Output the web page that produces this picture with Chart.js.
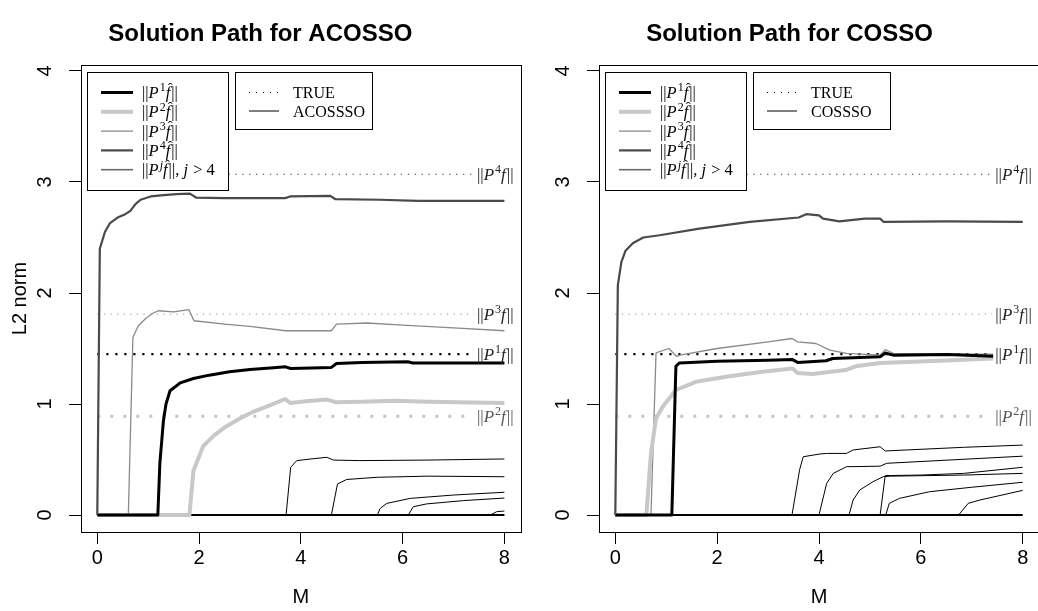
<!DOCTYPE html>
<html><head><meta charset="utf-8">
<script src="https://cdn.jsdelivr.net/npm/chart.js@4"></script>
<style>
html,body{margin:0;padding:0;background:#fff;overflow:hidden;width:1038px;height:611px;position:relative}
#wl{position:absolute;left:0;top:0;width:602px;height:611px}
#wr{position:absolute;left:540px;top:0;width:558px;height:611px}
canvas{display:block}
</style></head><body>
<div id="wl"><canvas id="cl" width="602" height="611" style="width:602px;height:611px"></canvas></div>
<div id="wr"><canvas id="cr" width="558" height="611" style="width:558px;height:611px"></canvas></div>
<script>
// ---------- data ----------
const xTicks = [0, 2, 4, 6, 8];
const yTicks = [0, 1, 2, 3, 4];
const trueVals = [1.45, 0.89, 1.81, 3.07]; // ||P1 f||, ||P2 f||, ||P3 f||, ||P4 f||
const trueEnd = 7.4;

// ACOSSO
const acP1M = [0, 1.19, 1.23, 1.3, 1.35, 1.43, 1.63, 1.89, 2.2, 2.6, 3.0, 3.4, 3.7, 3.8, 4.6, 4.7, 5.2, 6.1, 6.2, 8];
const acP1  = [0, 0, 0.47, 0.85, 1.0, 1.12, 1.19, 1.23, 1.26, 1.29, 1.31, 1.325, 1.335, 1.32, 1.33, 1.365, 1.375, 1.38, 1.37, 1.37];
const acP2M = [0, 1.81, 1.89, 2.08, 2.3, 2.54, 2.8, 3.06, 3.4, 3.69, 3.79, 4.1, 4.51, 4.7, 5.2, 5.82, 6.5, 8];
const acP2  = [0, 0, 0.40, 0.62, 0.72, 0.80, 0.87, 0.93, 0.99, 1.045, 1.01, 1.025, 1.04, 1.015, 1.02, 1.03, 1.02, 1.01];
const acP3M = [0, 0.61, 0.7, 0.8, 0.95, 1.1, 1.2, 1.5, 1.8, 1.9, 2.5, 3.0, 3.7, 4.6, 4.7, 5.3, 6.0, 7.0, 8];
const acP3  = [0, 0, 1.6, 1.7, 1.77, 1.82, 1.84, 1.83, 1.85, 1.75, 1.72, 1.70, 1.66, 1.66, 1.72, 1.73, 1.71, 1.685, 1.66];
const acP4M = [0, 0.05, 0.15, 0.25, 0.4, 0.55, 0.65, 0.75, 0.85, 1.05, 1.25, 1.55, 1.82, 1.94, 2.5, 3.69, 3.79, 4.58, 4.68, 5.56, 6.3, 8];
const acP4  = [0, 2.4, 2.55, 2.63, 2.68, 2.71, 2.74, 2.80, 2.84, 2.87, 2.88, 2.89, 2.895, 2.86, 2.855, 2.855, 2.87, 2.875, 2.845, 2.84, 2.83, 2.83];
const acJ1M = [0, 3.71, 3.80, 3.92, 4.2, 4.51, 4.64, 5.16, 6.5, 8];
const acJ1  = [0, 0, 0.43, 0.49, 0.505, 0.52, 0.495, 0.49, 0.495, 0.505];
const acJ2M = [0, 4.60, 4.72, 4.9, 5.5, 6.5, 8];
const acJ2  = [0, 0, 0.28, 0.32, 0.34, 0.35, 0.345];
const acJ3M = [0, 5.50, 5.56, 5.69, 6.15, 7.0, 8];
const acJ3  = [0, 0, 0.06, 0.105, 0.15, 0.18, 0.205];
const acJ4M = [0, 6.11, 6.21, 6.47, 7.2, 8];
const acJ4  = [0, 0, 0.075, 0.1, 0.13, 0.153];
const acJ5M = [0, 7.72, 7.85, 8];
const acJ5  = [0, 0, 0.03, 0.036];

// COSSO
const coP1M = [0, 1.11, 1.19, 1.26, 2.0, 3.0, 3.48, 3.58, 4.14, 4.27, 5.2, 5.3, 5.46, 6.52, 7.42];
const coP1  = [0, 0, 1.34, 1.37, 1.385, 1.395, 1.40, 1.375, 1.39, 1.41, 1.425, 1.46, 1.44, 1.445, 1.43];
const coP2M = [0, 0.61, 0.70, 0.80, 0.93, 1.19, 1.58, 2.24, 2.89, 3.48, 3.58, 3.87, 4.52, 4.72, 5.2, 5.86, 6.6, 7.42];
const coP2  = [0, 0, 0.556, 0.87, 0.976, 1.126, 1.20, 1.25, 1.29, 1.32, 1.28, 1.27, 1.306, 1.34, 1.37, 1.38, 1.395, 1.41];
const coP3M = [0, 0.70, 0.80, 1.05, 1.2, 1.27, 2.0, 3.0, 3.47, 3.58, 3.94, 4.21, 4.54, 5.2, 5.3, 5.46, 6.84, 7.42];
const coP3  = [0, 0, 1.46, 1.50, 1.43, 1.44, 1.50, 1.56, 1.59, 1.56, 1.545, 1.486, 1.456, 1.44, 1.49, 1.457, 1.45, 1.45];
const coP4M = [0, 0.05, 0.12, 0.2, 0.35, 0.55, 0.87, 1.65, 2.64, 3.6, 3.75, 4.0, 4.08, 4.4, 4.9, 5.2, 5.27, 6.5, 8];
const coP4  = [0, 2.07, 2.28, 2.38, 2.45, 2.5, 2.52, 2.58, 2.64, 2.68, 2.71, 2.70, 2.67, 2.645, 2.67, 2.67, 2.64, 2.645, 2.64];
const coJ1M = [0, 3.47, 3.62, 3.69, 4.02, 4.15, 4.54, 4.67, 5.2, 5.3, 6.84, 8];
const coJ1  = [0, 0, 0.41, 0.525, 0.55, 0.555, 0.555, 0.586, 0.615, 0.577, 0.61, 0.63];
const coJ2M = [0, 4.0, 4.15, 4.28, 4.54, 5.2, 5.33, 8];
const coJ2  = [0, 0, 0.285, 0.375, 0.435, 0.44, 0.466, 0.53];
const coJ3M = [0, 4.59, 4.67, 4.8, 5.06, 5.26, 5.4, 6.84, 8];
const coJ3  = [0, 0, 0.135, 0.225, 0.30, 0.345, 0.35, 0.36, 0.375];
const coJ4M = [0, 5.2, 5.3, 6.0, 6.84, 8];
const coJ4  = [0, 0, 0.355, 0.36, 0.375, 0.43];
const coJ5M = [0, 5.31, 5.38, 5.58, 6.17, 7.0, 8];
const coJ5  = [0, 0, 0.105, 0.15, 0.21, 0.25, 0.295];
const coJ6M = [0, 6.74, 6.93, 7.16, 8];
const coJ6  = [0, 0, 0.105, 0.135, 0.222];

const zeroM = [0, 8];
const zeroV = [0, 0];

// ---------- helpers ----------
const pts = (m, v) => m.map((x, i) => ({x, y: v[i]}));
const SANS = '"Liberation Sans", Arial, sans-serif';
const SERIF = '"Liberation Serif", "Times New Roman", serif';

const STY = {
  p1: {borderColor:'#000000', borderWidth:3},
  p2: {borderColor:'#c8c8c8', borderWidth:4},
  p3: {borderColor:'#8a8a8a', borderWidth:1.3},
  p4: {borderColor:'#4a4a4a', borderWidth:2.2},
  j:  {borderColor:'#000000', borderWidth:1},
  zero: {borderColor:'#000000', borderWidth:2},
  t1: {borderColor:'#000000', borderWidth:2.2, borderDash:[2.2, 6.8]},
  t2: {borderColor:'#c4c4c4', borderWidth:3, borderDash:[3, 10]},
  t3: {borderColor:'#8a8a8a', borderWidth:1, borderDash:[1.2, 5.4]},
  t4: {borderColor:'#3a3a3a', borderWidth:1.2, borderDash:[1.3, 5.6]}
};
function ds(m, v, s) {
  return Object.assign({data: pts(m, v), pointRadius:0, tension:0, fill:false, borderCapStyle:'butt', borderJoinStyle:'round'}, STY[s]);
}

function drawRich(ctx, x, y, parts, size, color) {
  let cx = x;
  ctx.textAlign = 'left'; ctx.textBaseline = 'alphabetic'; ctx.fillStyle = color;
  for (const [t, k] of parts) {
    let dy = 0;
    if (k === 'n') ctx.font = `${size}px ${SERIF}`;
    else if (k === 'i' || k === 'h') ctx.font = `italic ${size}px ${SERIF}`;
    else if (k === 's') { ctx.font = `${Math.round(size*0.72)}px ${SERIF}`; dy = -size*0.4; }
    else if (k === 'si') { ctx.font = `italic ${Math.round(size*0.72)}px ${SERIF}`; dy = -size*0.4; }
    ctx.fillText(t, cx, y + dy);
    const w = ctx.measureText(t).width;
    if (k === 'h') {
      ctx.font = `${Math.round(size*0.9)}px ${SERIF}`;
      const hw = ctx.measureText('\u02C6').width;
      ctx.fillText('\u02C6', cx + w*0.5 + size*0.14 - hw/2, y - size*0.32);
    }
    cx += w + ((k === 'i' || k === 'h') ? size*0.06 : 0);
  }
}

const hatRow = (n) => [['||','n'],['P','i'],[n,'s'],['f','h'],['||','n']];

const decor = {
  id: 'decor',
  afterDatasetsDraw(chart, args, o) {
    const ctx = chart.ctx, a = chart.chartArea, xs = chart.scales.x, ys = chart.scales.y;
    ctx.save();
    // value labels at right end of TRUE lines
    const lx = xs.getPixelForValue(trueEnd) + 3;
    const lab = [[3, '4', '#222'], [2, '3', '#222'], [0, '1', '#222'], [1, '2', '#555']];
    for (const [idx, n, c] of lab) {
      const py = ys.getPixelForValue(trueVals[idx]);
      drawRich(ctx, lx, py + 5.5, [['||','n'],['P','i'],[n,'s'],['f','i'],['||','n']], 17, c);
    }
    // legend 1
    const L1x = a.left + 6, L1y = a.top + 7, L1w = 141, L1h = 118;
    ctx.fillStyle = '#fff'; ctx.fillRect(L1x, L1y, L1w, L1h);
    ctx.strokeStyle = '#000'; ctx.lineWidth = 1; ctx.setLineDash([]);
    ctx.strokeRect(Math.round(L1x)+0.5, Math.round(L1y)+0.5, L1w, L1h);
    const rows = [['p1', hatRow('1')], ['p2', hatRow('2')], ['p3', hatRow('3')], ['p4', hatRow('4')],
                  ['jl', [['||','n'],['P','i'],['j','si'],['f','h'],['||, ','n'],['j','i'],[' > 4','n']]]];
    const legSty = {p1: STY.p1, p2: STY.p2, p3: STY.p3, p4: STY.p4, jl: {borderColor:'#6a6a6a', borderWidth:1.6}};
    rows.forEach(([k, parts], i) => {
      const ry = L1y + 20.5 + i*19.3;
      ctx.strokeStyle = legSty[k].borderColor; ctx.lineWidth = legSty[k].borderWidth; ctx.lineCap='butt';
      ctx.beginPath(); ctx.moveTo(L1x + 14, ry); ctx.lineTo(L1x + 46, ry); ctx.stroke();
      drawRich(ctx, L1x + 55, ry + 5.5, parts, 16.5, '#000');
    });
    // legend 2
    const L2x = a.left + (o.l2dx), L2y = a.top + 7, L2w = o.l2w, L2h = 57;
    ctx.fillStyle = '#fff'; ctx.fillRect(L2x, L2y, L2w, L2h);
    ctx.strokeStyle = '#000'; ctx.lineWidth = 1;
    ctx.strokeRect(Math.round(L2x)+0.5, Math.round(L2y)+0.5, L2w, L2h);
    ctx.lineWidth = 1; ctx.setLineDash([1, 6]);
    ctx.beginPath(); ctx.moveTo(L2x + 14, L2y + 20.5); ctx.lineTo(L2x + 44, L2y + 20.5); ctx.stroke();
    ctx.setLineDash([]);
    ctx.beginPath(); ctx.moveTo(L2x + 14, L2y + 39); ctx.lineTo(L2x + 44, L2y + 39); ctx.stroke();
    ctx.fillStyle = '#000'; ctx.font = `16px ${SERIF}`; ctx.textAlign='left'; ctx.textBaseline='alphabetic';
    ctx.fillText('TRUE', L2x + 58, L2y + 26);
    ctx.fillText(o.method, L2x + 58, L2y + 44.5);
    // box
    ctx.strokeStyle = '#000'; ctx.lineWidth = 1;
    ctx.strokeRect(Math.round(a.left)+0.5, Math.round(a.top)+0.5, Math.round(a.right-a.left), Math.round(a.bottom-a.top));
    ctx.restore();
  }
};

function makeChart(id, cfg) {
  const datasets = cfg.series.map(([m, v, s]) => ds(m, v, s));
  return new Chart(document.getElementById(id), {
    type: 'line',
    data: {datasets},
    options: {
      responsive: false, animation: false, events: [],
      layout: {padding: {left: 0, right: cfg.padRight, top: 0, bottom: 0}},
      plugins: {
        legend: {display: false}, tooltip: {enabled: false},
        title: {display: true, text: cfg.title, color: '#000',
          font: {family: SANS, size: 24, weight: 'bold'}, padding: {top: 20, bottom: 16.2}},
        decor: {method: cfg.method, l2dx: 154, l2w: 137}
      },
      scales: {
        x: {type: 'linear', min: -0.32, max: 8.32,
          afterBuildTicks: s => { s.ticks = xTicks.map(v => ({value: v})); },
          afterFit: s => { s.height = 79; },
          grid: {display: true, drawOnChartArea: false, drawTicks: true, tickLength: 12, color: '#000', lineWidth: 1},
          border: {display: true, color: '#000', width: 1},
          ticks: {color: '#000', font: {family: SANS, size: 20}, padding: 2, maxRotation: 0, minRotation: 0},
          title: {display: true, text: 'M', color: '#000', font: {family: SANS, size: 20}, padding: {top: 0, bottom: 2}}
        },
        y: {type: 'linear', min: -0.153, max: 4.054,
          afterBuildTicks: s => { s.ticks = yTicks.map(v => ({value: v})); },
          afterFit: s => { s.width = cfg.yWidth; },
          grid: {display: true, drawOnChartArea: false, drawTicks: true, tickLength: 12, color: '#000', lineWidth: 1},
          border: {display: true, color: '#000', width: 1},
          ticks: {color: '#000', font: {family: SANS, size: 20}, padding: 18, minRotation: 90, maxRotation: 90, crossAlign: 'center'},
          title: {display: cfg.yTitle, text: 'L2 norm', color: '#000', font: {family: SANS, size: 20}, padding: {top: 8, bottom: 0}}
        }
      }
    },
    plugins: [decor]
  });
}

const trueSeries = [
  [[0, trueEnd], [trueVals[0], trueVals[0]], 't1'],
  [[0, trueEnd], [trueVals[1], trueVals[1]], 't2'],
  [[0, trueEnd], [trueVals[2], trueVals[2]], 't3'],
  [[0, trueEnd], [trueVals[3], trueVals[3]], 't4']
];

makeChart('cl', {
  title: 'Solution Path for ACOSSO', method: 'ACOSSSO', padRight: 81.3, yWidth: 81, yTitle: true,
  series: [
    [acP1M, acP1, 'p1'], [acP2M, acP2, 'p2'], [acP3M, acP3, 'p3'], [acP4M, acP4, 'p4'],
    [acJ1M, acJ1, 'j'], [acJ2M, acJ2, 'j'], [acJ3M, acJ3, 'j'], [acJ4M, acJ4, 'j'], [acJ5M, acJ5, 'j'],
    [zeroM, zeroV, 'zero'], ...trueSeries
  ]
});
makeChart('cr', {
  title: 'Solution Path for COSSO', method: 'COSSSO', padRight: 59, yWidth: 59, yTitle: false,
  series: [
    [coP1M, coP1, 'p1'], [coP2M, coP2, 'p2'], [coP3M, coP3, 'p3'], [coP4M, coP4, 'p4'],
    [coJ1M, coJ1, 'j'], [coJ2M, coJ2, 'j'], [coJ3M, coJ3, 'j'], [coJ4M, coJ4, 'j'], [coJ5M, coJ5, 'j'], [coJ6M, coJ6, 'j'],
    [zeroM, zeroV, 'zero'], ...trueSeries
  ]
});
</script>
</body></html>
